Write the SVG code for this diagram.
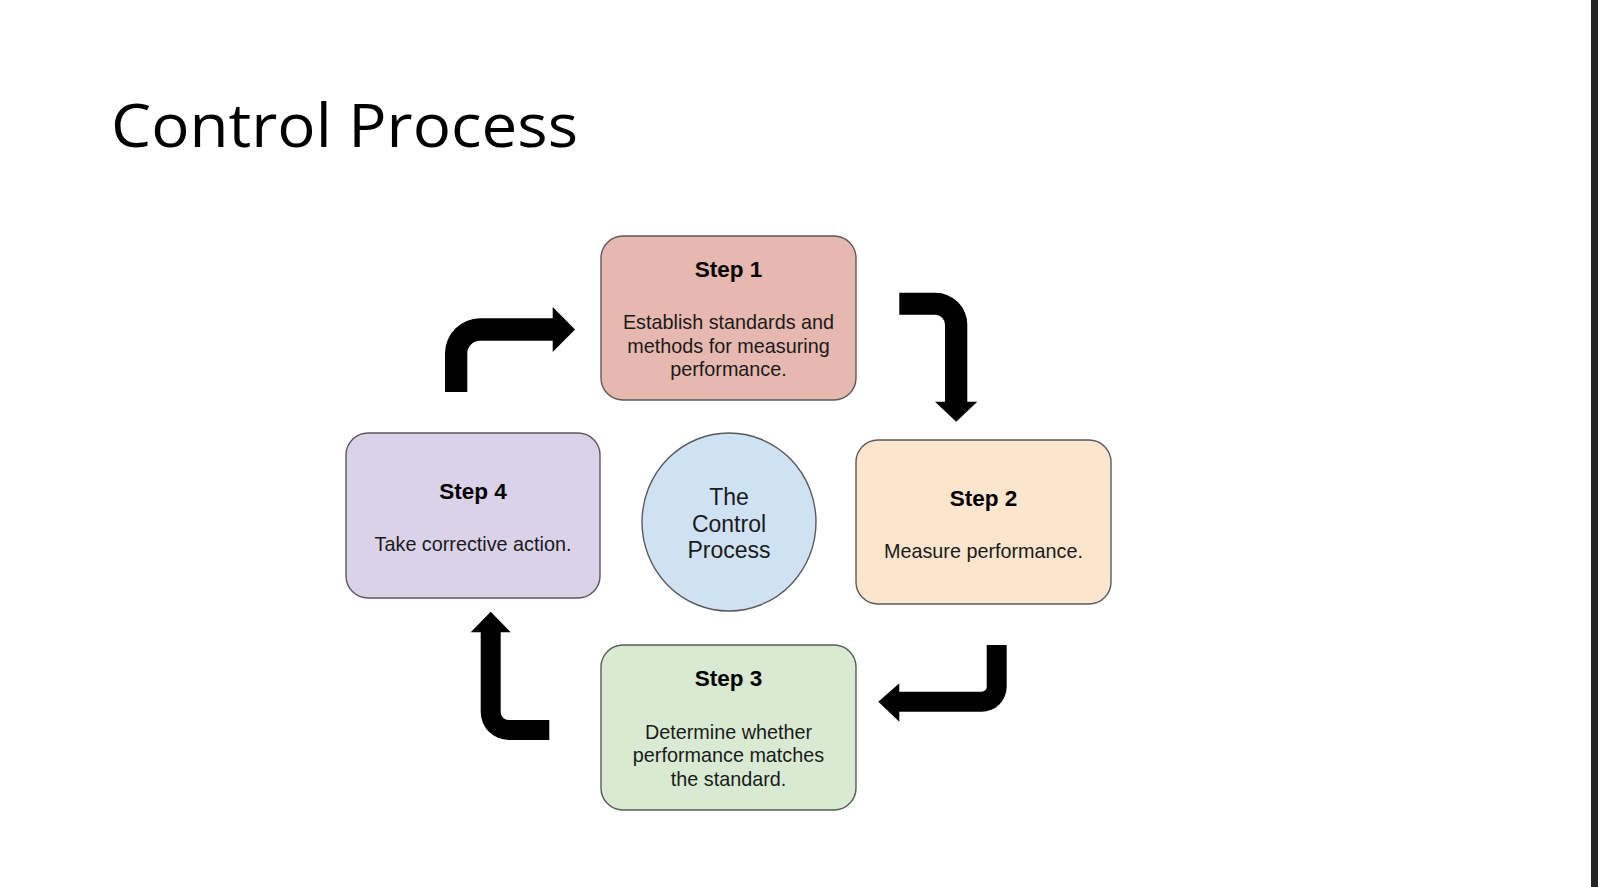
<svg xmlns="http://www.w3.org/2000/svg" width="1598" height="887" viewBox="0 0 1598 887">
<style>
.box{stroke:#5a5a5a;stroke-width:1.4}
.h{font-family:"Liberation Sans",Arial,sans-serif;font-weight:bold;font-size:22.5px;fill:#000;text-anchor:middle}
.t{font-family:"Liberation Sans",Arial,sans-serif;font-size:19.8px;fill:#1a1a1a;text-anchor:middle}
.c{font-family:"Liberation Sans",Arial,sans-serif;font-size:23px;fill:#1a1a1a;text-anchor:middle}
.arrow{fill:#000}
</style>
<rect width="1598" height="887" fill="#fff"/>
<rect x="1591" y="0" width="7" height="887" fill="#242424"/>
<text x="111" y="147" font-family="'Open Sans','Noto Sans',sans-serif" font-size="60" fill="#000" textLength="467" lengthAdjust="spacingAndGlyphs">Control Process</text>
<g id="step1">
<rect class="box" x="601" y="236" width="255" height="164" rx="22" fill="#e6b8af"/>
<text class="h" x="728.5" y="277">Step 1</text>
<text class="t" x="728.5" y="329">Establish standards and</text>
<text class="t" x="728.5" y="352.5">methods for measuring</text>
<text class="t" x="728.5" y="376">performance.</text>
</g>
<g id="step2">
<rect class="box" x="856" y="440" width="255" height="164" rx="22" fill="#fce5cd"/>
<text class="h" x="983.5" y="505.5">Step 2</text>
<text class="t" x="983.5" y="558">Measure performance.</text>
</g>
<g id="step3">
<rect class="box" x="601" y="645" width="255" height="165" rx="22" fill="#d9ead3"/>
<text class="h" x="728.5" y="686">Step 3</text>
<text class="t" x="728.5" y="738.5">Determine whether</text>
<text class="t" x="728.5" y="762">performance matches</text>
<text class="t" x="728.5" y="785.5">the standard.</text>
</g>
<g id="step4">
<rect class="box" x="346" y="433" width="254" height="165" rx="22" fill="#d9d2e9"/>
<text class="h" x="473" y="498.5">Step 4</text>
<text class="t" x="473" y="550.5">Take corrective action.</text>
</g>
<g id="center">
<ellipse class="box" cx="729" cy="522" rx="87" ry="89" fill="#cfe2f3"/>
<text class="c" x="729" y="505">The</text>
<text class="c" x="729" y="531.5">Control</text>
<text class="c" x="729" y="558">Process</text>
</g>
<g id="connectors">
<path class="arrow" d="M445 392 L445 353 A35 35 0 0 1 480 318.3 L552.7 318.3 L552.7 307 L575 329.5 L552.7 352 L552.7 340.7 L480 340.7 A12.7 12.7 0 0 0 467.3 353.4 L467.3 392 Z"/>
<path class="arrow" d="M899.3 292.7 L935.3 292.7 A32 32 0 0 1 967.3 324.7 L967.3 401.7 L977.3 401.7 L956.2 421.7 L935 401.7 L945 401.7 L945 324.7 A10 10 0 0 0 935.3 314.7 L899.3 314.7 Z"/>
<path class="arrow" d="M1006.7 645 L1006.7 686.7 A25 25 0 0 1 981.7 711.7 L899.3 711.7 L899.3 721.7 L878.3 701.7 L899.3 683.3 L899.3 691.7 L981.7 691.7 A5 5 0 0 0 986.7 686.7 L986.7 645 Z"/>
<path class="arrow" d="M549.3 740 L508.7 740 A28 28 0 0 1 480.7 712 L480.7 632.3 L470.7 632.3 L490.7 611.7 L510.7 632.3 L500.7 632.3 L500.7 712 A8 8 0 0 0 508.7 720 L549.3 720 Z"/>
</g>
</svg>
